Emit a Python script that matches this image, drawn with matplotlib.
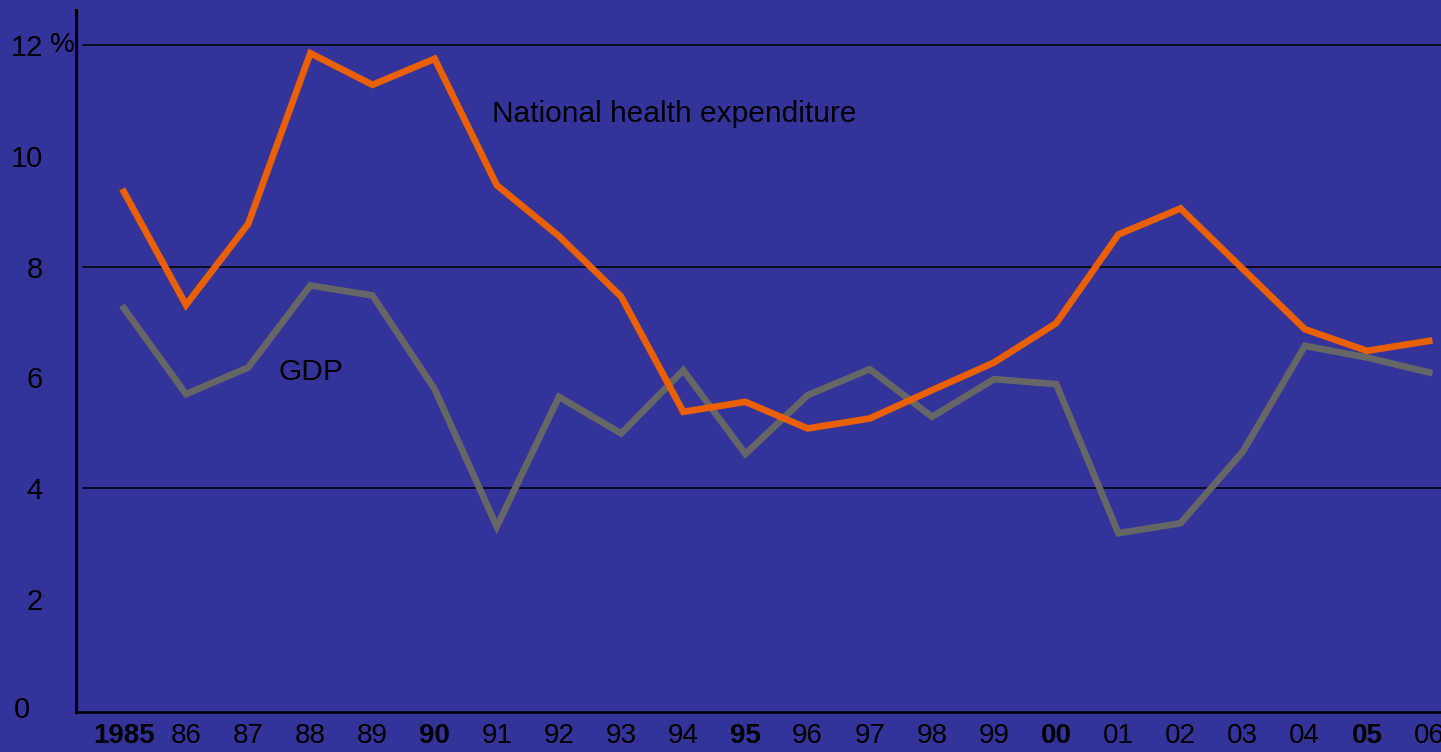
import matplotlib
matplotlib.use("Agg")
import matplotlib.pyplot as plt

years = list(range(1985, 2007))
tick_labels = ["1985", "86", "87", "88", "89", "90", "91", "92", "93", "94", "95",
               "96", "97", "98", "99", "00", "01", "02", "03", "04", "05", "06"]
bold_labels = {"1985", "90", "95", "00", "05"}

nhe = [9.35, 7.31, 8.77, 11.85, 11.28, 11.75, 9.47, 8.55, 7.46, 5.38, 5.56,
       5.08, 5.26, 5.77, 6.27, 6.98, 8.58, 9.05, 7.96, 6.87, 6.48, 6.66]
gdp = [7.25, 5.70, 6.18, 7.66, 7.48, 5.79, 3.31, 5.65, 4.99, 6.13, 4.62,
       5.68, 6.15, 5.29, 5.97, 5.88, 3.19, 3.37, 4.66, 6.57, 6.36, 6.09]
y_ticks = [0, 2, 4, 6, 8, 10, 12]
y_tick_labels = ["", "2", "4", "6", "8", "10", "12"]
zero_label = "0"
grid_values = [4, 8, 12]

BG = "#333399"
ORANGE = "#EB6100"
GRAY = "#666666"

plt.rcParams['font.family'] = ['Liberation Sans', 'DejaVu Sans']

fig = plt.figure(figsize=(14.41, 7.52), dpi=100, facecolor=BG)
ax = fig.add_axes([76/1441, 40/752, 1365/1441, 702/752])
ax.set_facecolor(BG)

ax.set_xlim(1984.23, 2006.19)
ax.set_ylim(-0.036, 12.63)

for g in grid_values:
    ax.axhline(g, xmin=0.005, xmax=1, color="black", lw=1.1, zorder=1)

ax.plot(years, gdp, color=GRAY, lw=4.8, solid_joinstyle="miter", zorder=3)
ax.plot(years, nhe, color=ORANGE, lw=4.8, solid_joinstyle="miter", zorder=4)

ax.text(1990.92, 10.75, "National health expenditure", fontsize=21.5,
        color="black", ha="left", va="center")
ax.text(1987.48, 6.10, "GDP", fontsize=21.5, color="black", ha="left", va="center")

for s in ["top", "right"]:
    ax.spines[s].set_visible(False)
ax.spines["left"].set_linewidth(2.2)
ax.spines["bottom"].set_linewidth(1.8)
ax.spines["left"].set_color("black")
ax.spines["bottom"].set_color("black")

ax.set_yticks(y_ticks)
ax.set_yticklabels(y_tick_labels, fontsize=21)
ax.tick_params(axis="y", length=0, pad=24, colors="black")
ax.annotate("%", xy=(0, 12), xycoords=ax.get_yaxis_transform(),
            xytext=(-26, 0), textcoords="offset pixels", fontsize=20,
            ha="left", va="center", color="black")
ax.annotate(zero_label, xy=(0, 0), xycoords=ax.get_yaxis_transform(),
            xytext=(-46, 0), textcoords="offset pixels", fontsize=21,
            ha="right", va="center", color="black")

ax.set_xticks(years)
ax.set_xticklabels(tick_labels, fontsize=20)
ax.tick_params(axis="x", length=0, pad=8, colors="black")
for lbl in ax.get_xticklabels():
    if lbl.get_text() in bold_labels:
        lbl.set_fontweight("bold")

fig.savefig("out.png", dpi=100, facecolor=BG)
